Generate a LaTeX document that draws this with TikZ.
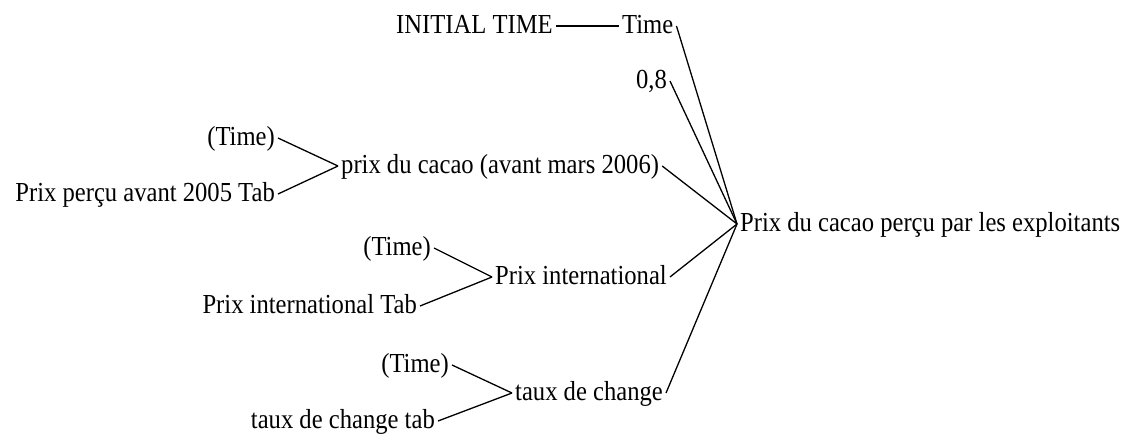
\documentclass[tikz,border=0pt]{standalone}
\usepackage{fontspec}
\setmainfont{Liberation Serif}[FakeStretch=0.895]
\begin{document}
\begin{tikzpicture}[x=1pt,y=-1pt,
  var/.style={inner sep=3pt,text height=19pt,text depth=5pt,font=\fontsize{27.5}{32}\selectfont},
  link/.style={draw=black,line width=1.3pt}]
\useasboundingbox (0,0) rectangle (1126,434);
% variables of the causes tree
\node[var,anchor=base west] (init)  at (393,33)  {INITIAL TIME};
\node[var,anchor=base west] (time)  at (619,33)  {Time};
\node[var,anchor=base east] (c08)   at (670,88)  {0,8};
\node[var,anchor=base east] (tA)    at (278,145) {(Time)};
\node[var,anchor=base west] (prx)   at (338,173) {prix du cacao (avant mars 2006)};
\node[var,anchor=base east] (ptab)  at (278,201) {Prix perçu avant 2005 Tab};
\node[var,anchor=base west] (tgt)   at (737,231) {Prix du cacao perçu par les exploitants};
\node[var,anchor=base east] (tB)    at (434,255) {(Time)};
\node[var,anchor=base west] (pint)  at (492,284) {Prix international};
\node[var,anchor=base east] (pitab) at (420,313) {Prix international Tab};
\node[var,anchor=base east] (tC)    at (452,372) {(Time)};
\node[var,anchor=base west] (tx)    at (512,400) {taux de change};
\node[var,anchor=base east] (txtab) at (438,428) {taux de change tab};
% connectors
\draw[link] (init.east) -- (time.west);
\draw[link] (time.east) -- (tgt.west);
\draw[link] (c08.east) -- (tgt.west);
\draw[link] (prx.east) -- (tgt.west);
\draw[link] (pint.east) -- (tgt.west);
\draw[link] (tx.east) -- (tgt.west);
\draw[link] (tA.east) -- (prx.west);
\draw[link] (ptab.east) -- (prx.west);
\draw[link] (tB.east) -- (pint.west);
\draw[link] (pitab.east) -- (pint.west);
\draw[link] (tC.east) -- (tx.west);
\draw[link] (txtab.east) -- (tx.west);
\end{tikzpicture}
\end{document}
